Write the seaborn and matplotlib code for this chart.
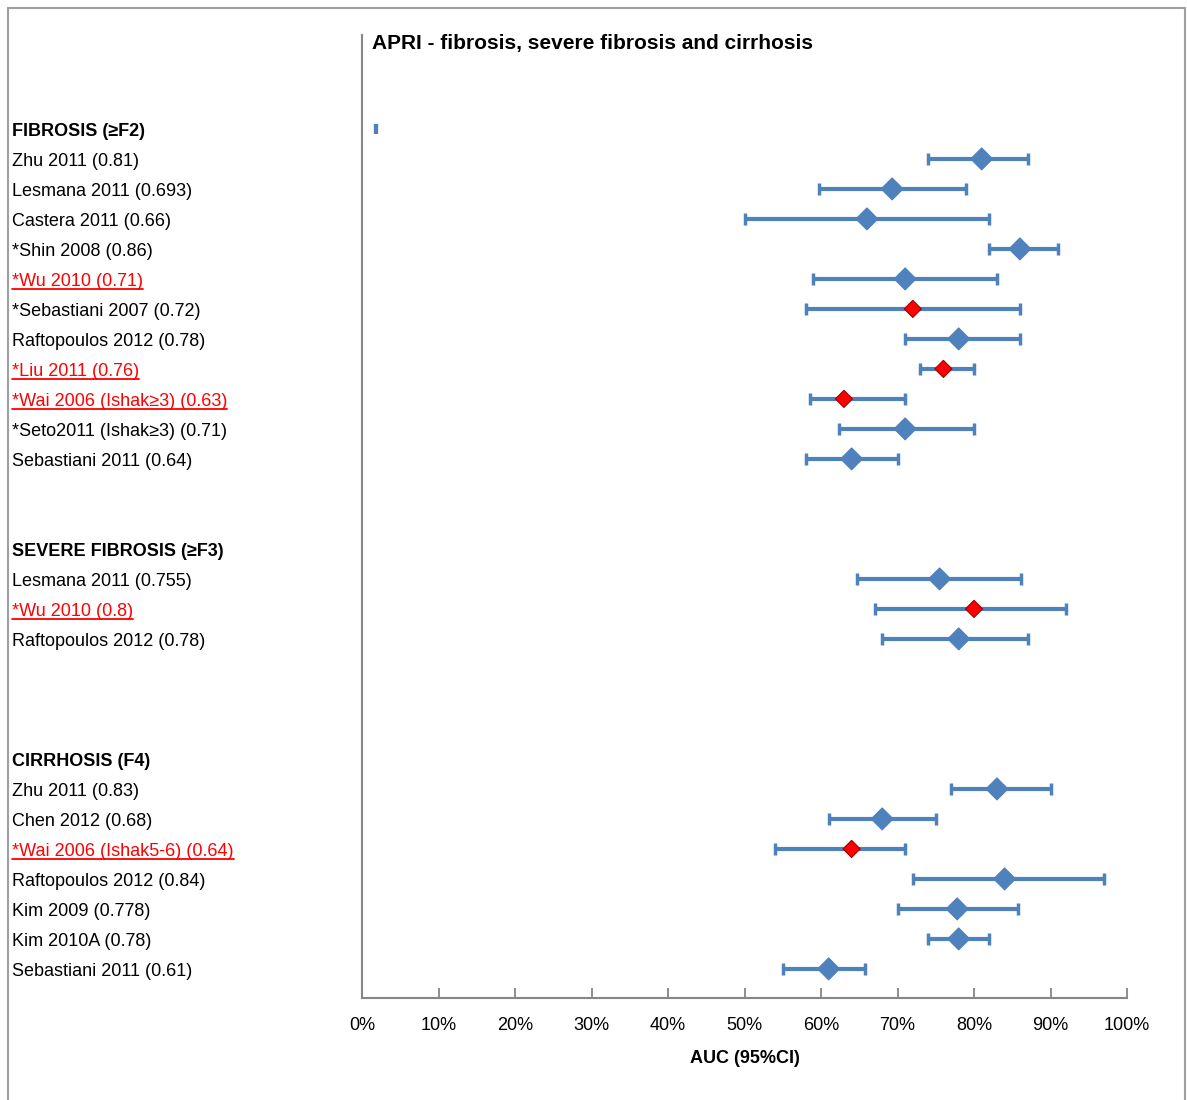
import numpy as np
import pandas as pd
import matplotlib
matplotlib.use('Agg')
import matplotlib.pyplot as plt
import matplotlib.transforms as mtransforms
from matplotlib.patches import Rectangle
from matplotlib.lines import Line2D
from matplotlib.ticker import PercentFormatter
import seaborn as sns

# data (AUC in %)
group_titles = ['FIBROSIS (≥F2)', 'SEVERE FIBROSIS (≥F3)', 'CIRRHOSIS (F4)']

fib_studies = ['Zhu 2011 (0.81)', 'Lesmana 2011 (0.693)', 'Castera 2011 (0.66)',
               '*Shin 2008 (0.86)', '*Wu 2010 (0.71)', '*Sebastiani 2007 (0.72)',
               'Raftopoulos 2012 (0.78)', '*Liu 2011 (0.76)',
               '*Wai 2006 (Ishak≥3) (0.63)', '*Seto2011 (Ishak≥3) (0.71)',
               'Sebastiani 2011 (0.64)']
fib_auc = [81, 69.3, 66, 86, 71, 72, 78, 76, 63, 71, 64]
fib_lo = [74, 59.7, 50, 82, 59, 58, 71, 73, 58.5, 62.3, 58]
fib_hi = [87, 79, 82, 91, 83, 86, 86, 80, 71, 80, 70]
fib_label_red = [0, 0, 0, 0, 1, 0, 0, 1, 1, 0, 0]
fib_marker_red = [0, 0, 0, 0, 0, 1, 0, 1, 1, 0, 0]

sev_studies = ['Lesmana 2011 (0.755)', '*Wu 2010 (0.8)', 'Raftopoulos 2012 (0.78)']
sev_auc = [75.5, 80, 78]
sev_lo = [64.7, 67, 68]
sev_hi = [86.2, 92, 87]
sev_label_red = [0, 1, 0]
sev_marker_red = [0, 1, 0]

cir_studies = ['Zhu 2011 (0.83)', 'Chen 2012 (0.68)', '*Wai 2006 (Ishak5-6) (0.64)',
               'Raftopoulos 2012 (0.84)', 'Kim 2009 (0.778)', 'Kim 2010A (0.78)',
               'Sebastiani 2011 (0.61)']
cir_auc = [83, 68, 64, 84, 77.8, 78, 61]
cir_lo = [77, 61, 54, 72, 70, 74, 55]
cir_hi = [90, 75, 71, 97, 85.7, 82, 65.8]
cir_label_red = [0, 0, 1, 0, 0, 0, 0]
cir_marker_red = [0, 0, 1, 0, 0, 0, 0]

header_mark = 1.8  # the stray point on the fibrosis title row

groups = [
    (fib_studies, fib_auc, fib_lo, fib_hi, fib_label_red, fib_marker_red),
    (sev_studies, sev_auc, sev_lo, sev_hi, sev_label_red, sev_marker_red),
    (cir_studies, cir_auc, cir_lo, cir_hi, cir_label_red, cir_marker_red),
]
blank_rows_before = [0, 2, 3]

rows = []
headers = []
r = 0
for title, g, gap in zip(group_titles, groups, blank_rows_before):
    r += gap
    headers.append((title, r))
    r += 1
    for name, a, lo, hi, lr, mr in zip(*g):
        rows.append(dict(study=name, auc=a, lo=lo, hi=hi, row=r,
                         label_red=bool(lr), flag='red' if mr else 'blue'))
        r += 1
df = pd.DataFrame(rows)

blue = '#4F81BD'
red = '#FF0000'
grey = '#868686'

sns.set_style('white')
plt.rcParams['font.family'] = ['Liberation Sans', 'DejaVu Sans']
plt.rcParams['text.color'] = 'black'
plt.rcParams['axes.labelcolor'] = 'black'
plt.rcParams['xtick.color'] = 'black'

fig = plt.figure(figsize=(11.87, 11.0), dpi=100)
ax = fig.add_axes([362 / 1187, 1 - 998 / 1100, (1127 - 362) / 1187, (998 - 35) / 1100])

ax.errorbar(df['auc'], df['row'], xerr=[df['auc'] - df['lo'], df['hi'] - df['auc']],
            fmt='none', ecolor=blue, elinewidth=3, capsize=4.5, capthick=2.5, zorder=2)
ax.errorbar([header_mark], [headers[0][1]], xerr=[[0], [0]], fmt='none', ecolor=blue,
            elinewidth=3, capsize=3.5, capthick=3, zorder=2)

sns.scatterplot(data=df, x='auc', y='row', hue='flag', size='flag',
                palette={'blue': blue, 'red': red}, sizes={'blue': 125, 'red': 76},
                marker='D', linewidth=0.8, edgecolor=None, legend=False, ax=ax, zorder=3)
# edge colours per point
coll = ax.collections[-1]
coll.set_edgecolor([blue if f == 'blue' else '#A00000' for f in df['flag']])

ax.set_xlim(0, 100)
ax.set_ylim(r - 1 + 0.97, -3.13)
ax.set_xticks(np.arange(0, 101, 10))
ax.xaxis.set_major_formatter(PercentFormatter(decimals=0))
ax.set_yticks([])
ax.tick_params(axis='x', bottom=True, direction='in', length=7, width=1.3, color=grey,
               labelcolor='black', labelsize=13, pad=14)
for s in ['top', 'right']:
    ax.spines[s].set_visible(False)
for s in ['left', 'bottom']:
    ax.spines[s].set_color(grey)
    ax.spines[s].set_linewidth(1.5)
ax.set_xlabel('AUC (95%CI)', fontsize=13, fontweight='bold', labelpad=11)
ax.set_ylabel('')

fig.text(372 / 1187, 1 - 44 / 1100, 'APRI - fibrosis, severe fibrosis and cirrhosis',
         fontsize=15, fontweight='bold', ha='left', va='center')

shift = mtransforms.ScaledTranslation(0, -2.5 / 100, fig.dpi_scale_trans)
trans = mtransforms.blended_transform_factory(fig.transFigure, ax.transData) + shift
lx = 12 / 1187
for title, hr in headers:
    ax.text(lx, hr, title, transform=trans, fontsize=13, fontweight='bold',
            ha='left', va='center', clip_on=False)
red_texts = []
for _, row in df.iterrows():
    t = ax.text(lx, row['row'], row['study'], transform=trans, fontsize=13,
                color=red if row['label_red'] else 'black',
                ha='left', va='center', clip_on=False)
    if row['label_red']:
        red_texts.append(t)

# underline the red study labels
fig.canvas.draw()
for t in red_texts:
    bb = t.get_window_extent()
    y = (bb.y0 + 1) / fig.bbox.height
    fig.add_artist(Line2D([bb.x0 / fig.bbox.width, bb.x1 / fig.bbox.width], [y, y],
                          color=red, lw=1.3, transform=fig.transFigure))

# outer frame
fig.add_artist(Rectangle((8 / 1187, -0.01), (1185 - 8) / 1187, 1 - 8 / 1100 + 0.01,
                         transform=fig.transFigure, fill=False, edgecolor='#A0A0A0', lw=1.5))

fig.savefig('out.png', dpi=100)
